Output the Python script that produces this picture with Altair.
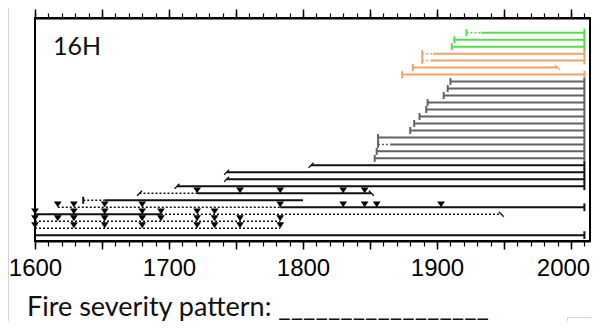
import altair as alt
import pandas as pd

# ---------------- data ----------------
major_years = list(range(1600, 2001, 50))
minor_years = list(range(1600, 2011, 10))

row_group = (["green"] * 3 + ["orange"] * 4 + ["grey"] * 12 + ["black"] * 11)
row_start = [1922, 1913, 1911, 1889, 1889, 1882, 1874,
             1910, 1908, 1905, 1893, 1892, 1887, 1883, 1880, 1856, 1856, 1855, 1853.5,
             1806, 1743, 1743, 1706, 1678, 1636, 1617, 1600, 1600, 1600, 1600]
row_end = [2010, 2010, 2010, 2010, 2010, 1990, 2010,
           2010, 2010, 2010, 2010, 2010, 2010, 2010, 2010, 2010, 2010, 2010, 2010,
           2010, 2010, 2010, 2010, 1851, 1800, 2010, 1948, 1783, 1783, 2010]
dot_from = [1922, None, None, 1889, 1889, None, None,
            None, None, None, None, None, None, None, None, None, 1856, None, None,
            None, None, None, None, 1678, 1636, 1617, 1694, 1600, 1600, None]
dot_to = [1933, None, None, 1897, 1895, None, None,
          None, None, None, None, None, None, None, None, None, 1865, None, None,
          None, None, None, None, 1721, 1652, 1783, 1948, 1783, 1783, None]
start_mark = (["bar"] * 19 + ["slash"] * 5 + ["bar", "none", "none", "none", "none", "none"])
end_mark = (["bar"] * 5 + ["slash", "bar"] + ["bar"] * 12 + ["bar"] * 4 +
            ["slash", "none", "bar", "slash", "none", "none", "bar"])

scar_row = ([24] * 5 + [26] * 9 + [27] * 7 + [28] * 10 + [29] * 8)
scar_year = ([1721, 1753, 1783, 1830, 1846] +
             [1617, 1629, 1652, 1680, 1783, 1830, 1846, 1855, 1903] +
             [1600, 1629, 1652, 1680, 1694, 1721, 1734] +
             [1600, 1617, 1629, 1652, 1680, 1694, 1721, 1734, 1753, 1783] +
             [1600, 1629, 1652, 1680, 1721, 1734, 1753, 1783])

site_label = ["16H"]
site_label_year = [1613.5]
site_label_row = [3.05]
footer_text = "Fire severity pattern: _________________"

group_names = ["green", "orange", "grey", "black"]
group_colors = ["#58dc4c", "#eda46a", "#626262", "#111111"]

# ---------------- tables ----------------
seg_rows, bar_rows, slash_start, slash_end = [], [], [], []
for i in range(len(row_start)):
    r = i + 1
    g = row_group[i]
    s, e = row_start[i], row_end[i]
    a, b = dot_from[i], dot_to[i]
    if a is None:
        seg_rows.append(dict(row=r, x=s, x2=e, style="solid", group=g))
    else:
        if a > s:
            seg_rows.append(dict(row=r, x=s, x2=a, style="solid", group=g))
        seg_rows.append(dict(row=r, x=a, x2=b, style="dotted", group=g))
        if e > b:
            seg_rows.append(dict(row=r, x=b, x2=e, style="solid", group=g))
    if start_mark[i] == "bar":
        bar_rows.append(dict(row=r, year=s, lo=r - 0.5, hi=r + 0.5, group=g))
    elif start_mark[i] == "slash":
        slash_start.append(dict(row=r, year=s, group=g))
    if end_mark[i] == "bar":
        bar_rows.append(dict(row=r, year=e, lo=r - 0.55, hi=r + 0.55, group=g))
    elif end_mark[i] == "slash":
        slash_end.append(dict(row=r, year=e, group=g))

segs = pd.DataFrame(seg_rows)
bars = pd.DataFrame(bar_rows)
sl_start = pd.DataFrame(slash_start)
sl_end = pd.DataFrame(slash_end)
scars = pd.DataFrame({"row": scar_row, "year": scar_year})
labels = pd.DataFrame({"t": site_label, "year": site_label_year, "row": site_label_row})
ticks = pd.DataFrame({"year": minor_years})

W, H = 555, 223
xs = alt.Scale(domain=[1600, 1600 + W / 1.34], nice=False, zero=False)
ys = alt.Scale(domain=[-1.106, 30.84], reverse=True, nice=False, zero=False)
cs = alt.Scale(domain=group_names, range=group_colors)
col = alt.Color("group:N", scale=cs, legend=None)

solid = alt.Chart(segs).transform_filter(alt.datum.style == "solid").mark_rule(strokeWidth=2).encode(
    x=alt.X("x:Q", scale=xs, axis=None), x2="x2:Q",
    y=alt.Y("row:Q", scale=ys, axis=None), color=col)
dotted = alt.Chart(segs).transform_filter(alt.datum.style == "dotted").mark_rule(
    strokeWidth=1.5, strokeDash=[2, 2]).encode(
    x=alt.X("x:Q", scale=xs, axis=None), x2="x2:Q",
    y=alt.Y("row:Q", scale=ys, axis=None), color=col)
barl = alt.Chart(bars).mark_rule(strokeWidth=2).encode(
    x=alt.X("year:Q", scale=xs, axis=None),
    y=alt.Y("lo:Q", scale=ys, axis=None), y2="hi:Q", color=col)
sls = alt.Chart(sl_start).mark_point(shape="M -1 1 L 1 -1", filled=False, size=25, strokeWidth=1.3, opacity=1).encode(
    x=alt.X("year:Q", scale=xs, axis=None), y=alt.Y("row:Q", scale=ys, axis=None), color=col)
sle = alt.Chart(sl_end).mark_point(shape="M -1 -1 L 1 1", filled=False, size=25, strokeWidth=1.3, opacity=1).encode(
    x=alt.X("year:Q", scale=xs, axis=None), y=alt.Y("row:Q", scale=ys, axis=None), color=col)
scar = alt.Chart(scars).mark_point(shape="M -1 -1.5 L 1 -1.5 L 0 0 Z", filled=True, size=60,
                                   color="#000000", opacity=1).encode(
    x=alt.X("year:Q", scale=xs, axis=None), y=alt.Y("row:Q", scale=ys, axis=None))
txt = alt.Chart(labels).mark_text(align="left", baseline="middle", font="Lato", fontSize=25,
                                  color="#111111").encode(
    x=alt.X("year:Q", scale=xs, axis=None), y=alt.Y("row:Q", scale=ys, axis=None), text="t:N")

ax_common = dict(grid=False, title=None, tickColor="#000000", domainColor="#000000")
bottom_major = alt.Chart(ticks).mark_point(opacity=0).encode(
    x=alt.X("year:Q", scale=xs, axis=alt.Axis(
        orient="bottom", values=major_years, format="d",
        labelExpr="datum.value % 100 == 0 ? datum.label : ''",
        labelOffset={"condition": {"test": "datum.value == 2000", "value": -8}, "value": 0},
        tickSize=8, tickWidth=1.5, domainWidth=2, labelFont="Liberation Sans",
        labelFontSize=24, labelColor="#000000", labelPadding=7, labelFlush=False,
        labelOverlap=False, labelBound=False, **ax_common)))
bottom_minor = alt.Chart(ticks).mark_point(opacity=0).encode(
    x=alt.X("year:Q", scale=xs, axis=alt.Axis(
        orient="bottom", values=minor_years, tickSize=5, tickWidth=1.2, labels=False,
        domain=False, **ax_common)))
top_major = alt.Chart(ticks).mark_point(opacity=0).encode(
    x=alt.X("year:Q", scale=xs, axis=alt.Axis(
        orient="top", values=major_years, tickSize=9, tickWidth=1.5, labels=False,
        domainWidth=2, **ax_common)))
top_minor = alt.Chart(ticks).mark_point(opacity=0).encode(
    x=alt.X("year:Q", scale=xs, axis=alt.Axis(
        orient="top", values=minor_years, tickSize=5, tickWidth=1.2, labels=False,
        domain=False, **ax_common)))

one = pd.DataFrame({"t": [footer_text]})
footer = alt.Chart(one).mark_text(align="left", baseline="alphabetic", font="Lato", fontSize=27,
                                  color="#111111").encode(
    x=alt.value(-8), y=alt.value(298), text="t:N")
frame_l = alt.Chart(one).mark_rule(color="#d4d4d4", strokeWidth=1).encode(
    x=alt.value(-26.5), y=alt.value(-10), y2=alt.value(303))
frame_b1 = alt.Chart(one).mark_rule(color="#d4d4d4", strokeWidth=1).encode(
    x=alt.value(532.5), y=alt.value(299), y2=alt.value(303))
frame_b2 = alt.Chart(one).mark_rule(color="#d4d4d4", strokeWidth=1).encode(
    x=alt.value(532), x2=alt.value(560), y=alt.value(299.5))

chart = alt.layer(
    bottom_major, bottom_minor, top_major, top_minor,
    dotted, solid, barl, sls, sle, scar, txt, footer, frame_l, frame_b1, frame_b2
).resolve_axis(x="independent").properties(
    width=W, height=H,
    autosize=alt.AutoSizeParams(type="none"),
    padding={"left": 27, "top": 10, "right": 1, "bottom": 80},
).configure_view(stroke="#000000", strokeWidth=2)

chart.save("out.html", embed_options={"renderer": "svg", "actions": False})
